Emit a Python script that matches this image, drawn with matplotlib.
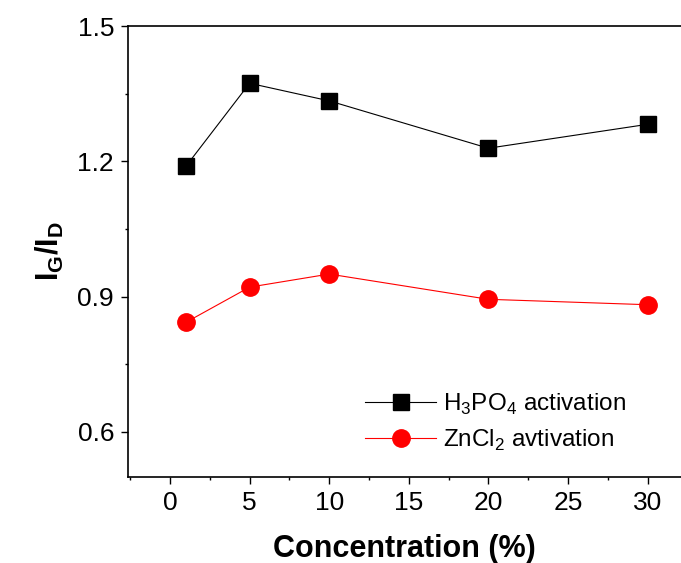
import matplotlib
matplotlib.use('Agg')
import matplotlib.pyplot as plt
from matplotlib.ticker import MultipleLocator

plt.rcParams['font.family'] = ['Liberation Sans', 'DejaVu Sans']
plt.rcParams['mathtext.fontset'] = 'custom'
plt.rcParams['mathtext.rm'] = 'Liberation Sans'
plt.rcParams['mathtext.bf'] = 'Liberation Sans:bold'

# data
conc = [1, 5, 10, 20, 30]
h3po4 = [1.189, 1.373, 1.334, 1.229, 1.282]
zncl2 = [0.843, 0.921, 0.950, 0.894, 0.882]

fig = plt.figure(figsize=(6.81, 5.63), dpi=100)
ax = fig.add_axes([128/681, 86/563, 553/681, 451/563])

ax.plot(conc, h3po4, color='black', lw=0.8, marker='s', ms=12,
        label=r'H$_3$PO$_4$ activation')
ax.plot(conc, zncl2, color='red', lw=0.8, marker='o', ms=12.5,
        label=r'ZnCl$_2$ avtivation')

ax.set_xlim(-2.64, 32.1)
ax.set_ylim(0.5, 1.5)
ax.xaxis.set_major_locator(MultipleLocator(5))
ax.xaxis.set_minor_locator(MultipleLocator(2.5))
ax.set_yticks([0.6, 0.9, 1.2, 1.5])
ax.set_yticks([0.75, 1.05, 1.35], minor=True)

ax.tick_params(which='both', direction='out', labelsize=19, width=1)
ax.tick_params(which='major', length=5, pad=5)
ax.tick_params(which='minor', length=2.5)
ax.spines['right'].set_visible(False)
for s in ['left', 'bottom', 'top']:
    ax.spines[s].set_linewidth(1.2)

ax.set_xlabel('Concentration (%)', fontsize=22, fontweight='bold', labelpad=14)
ax.set_ylabel(r'$\mathbf{I_G/I_D}$', fontsize=22, labelpad=8)

ax.legend(loc='lower right', bbox_to_anchor=(0.94, 0.005), frameon=False,
          fontsize=17.5, handlelength=2.9, handletextpad=0.3, labelspacing=0.45)

fig.savefig('out.png', dpi=100)
